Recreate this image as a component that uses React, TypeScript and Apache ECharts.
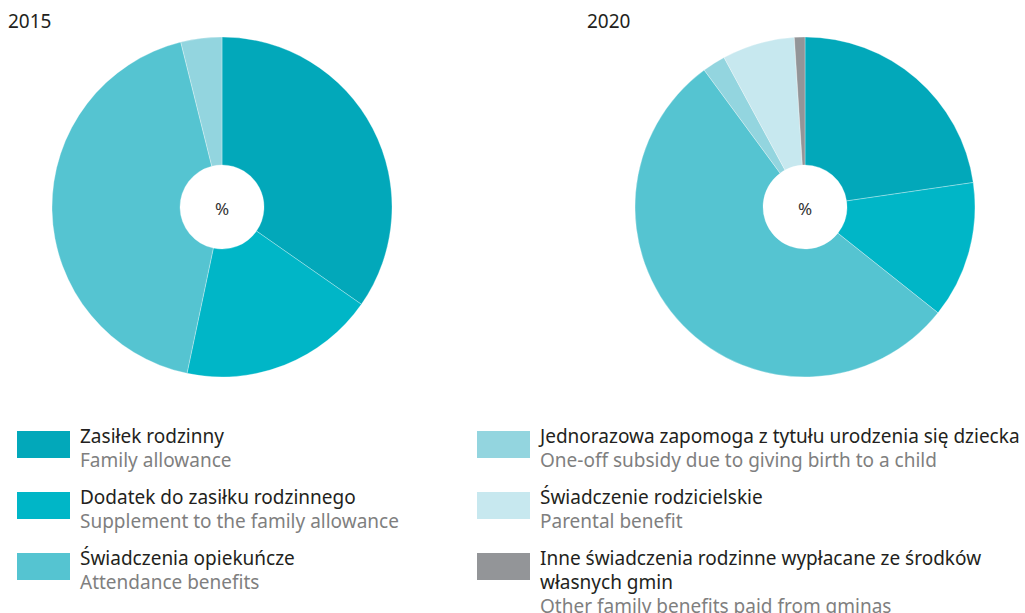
import React, { useEffect, useRef } from "react";
import * as echarts from "echarts";

const categoriesPl = [
  "Zasiłek rodzinny",
  "Dodatek do zasiłku rodzinnego",
  "Świadczenia opiekuńcze",
  "Jednorazowa zapomoga z tytułu urodzenia się dziecka",
  "Świadczenie rodzicielskie",
  "Inne świadczenia rodzinne wypłacane ze środków\nwłasnych gmin",
];
const categoriesEn = [
  "Family allowance",
  "Supplement to the family allowance",
  "Attendance benefits",
  "One-off subsidy due to giving birth to a child",
  "Parental benefit",
  "Other family benefits paid from gminas",
];
const colors = ["#02A8BA", "#00B6C7", "#55C4D1", "#93D5DF", "#C7E8EF", "#939598"];
const values2015 = [34.7, 18.6, 42.8, 3.9];
const values2020 = [22.7, 13.0, 54.2, 2.2, 6.9, 1.0];
const years = ["2015", "2020"];

export default function App() {
  const ref = useRef<HTMLDivElement>(null);
  useEffect(() => {
    document.body.style.margin = "0";
    const chart = echarts.init(ref.current!, null, { renderer: "svg" });
    const font = "'Noto Sans', sans-serif";
    const mkData = (vals: number[]) =>
      vals.map((v, i) => ({ name: categoriesPl[i].replace("\n", " "), value: v, itemStyle: { color: colors[i] } }));

    const legendEls: any[] = [];
    const legendPos = [
      { x: 17, y: 431 },
      { x: 17, y: 492 },
      { x: 17, y: 553 },
      { x: 477, y: 431 },
      { x: 477, y: 492 },
      { x: 477, y: 553 },
    ];
    const lh = 24;
    categoriesPl.forEach((c, i) => {
      const p = legendPos[i];
      const lines = [...c.split("\n").map((t) => ({ t, fill: "#231F20" })), { t: categoriesEn[i], fill: "#7F7F7F" }];
      legendEls.push({
        type: "rect",
        shape: { x: p.x, y: p.y, width: 53, height: 27 },
        style: { fill: colors[i] },
      });
      lines.forEach((ln, j) => {
        legendEls.push({
          type: "text",
          x: p.x + 63,
          y: p.y + 5 + lh * j,
          style: {
            text: ln.t,
            font: `19px ${font}`,
            fill: ln.fill,
            verticalAlign: "middle",
            lineHeight: 20,
          },
        });
      });
    });

    chart.setOption({
      animation: false,
      series: [values2015, values2020].map((vals, k) => ({
        type: "pie",
        center: [k === 0 ? 222 : 805, 207],
        radius: [42, 170],
        startAngle: 90,
        clockwise: true,
        label: { show: false },
        labelLine: { show: false },
        emphasis: { disabled: true },
        itemStyle: { borderColor: "rgba(255,255,255,0.6)", borderWidth: 0.5 },
        data: mkData(vals),
      })),
      graphic: [
        {
          type: "text",
          x: 8,
          y: 21,
          style: { text: years[0], font: `19px ${font}`, fill: "#231F20", verticalAlign: "middle" },
        },
        {
          type: "text",
          x: 587,
          y: 21,
          style: { text: years[1], font: `19px ${font}`, fill: "#231F20", verticalAlign: "middle" },
        },
        {
          type: "text",
          x: 222,
          y: 208,
          style: { text: "%", font: `17px ${font}`, fill: "#333", align: "center", verticalAlign: "middle" },
        },
        {
          type: "text",
          x: 805,
          y: 208,
          style: { text: "%", font: `17px ${font}`, fill: "#333", align: "center", verticalAlign: "middle" },
        },
        ...legendEls,
      ],
    });
    return () => chart.dispose();
  }, []);
  return <div ref={ref} style={{ width: 1025, height: 613 }} />;
}
